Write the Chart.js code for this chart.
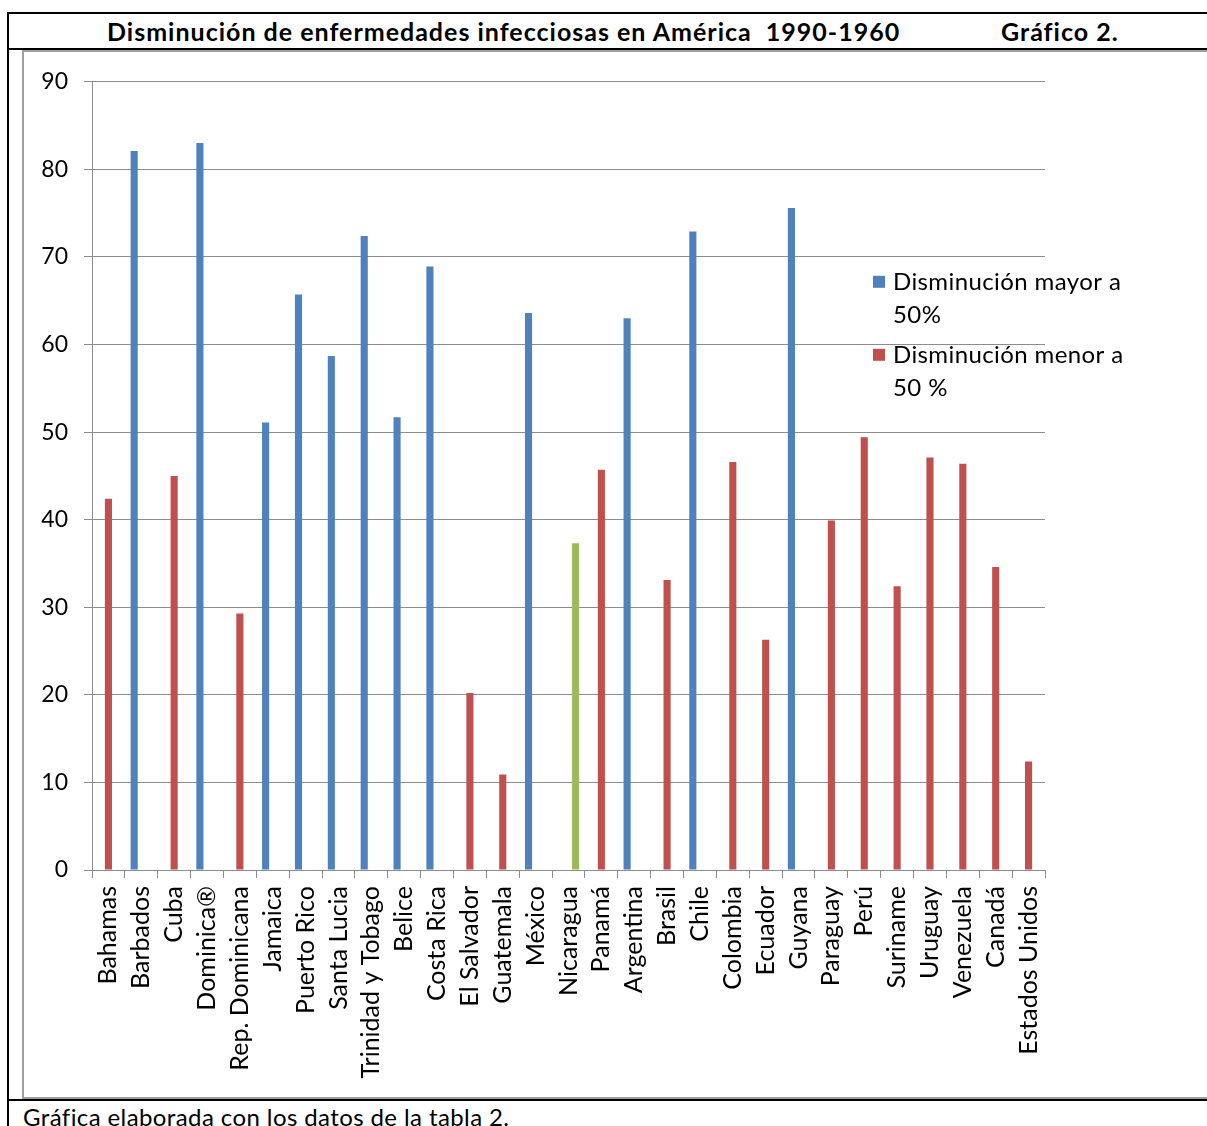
<!DOCTYPE html>
<html lang="es">
<head>
<meta charset="utf-8">
<title>Disminución de enfermedades infecciosas en América</title>
<script src="https://cdn.jsdelivr.net/npm/chart.js@4/dist/chart.umd.min.js"></script>
<style>
    html, body {
        margin: 0;
        padding: 0;
        background: #ffffff;
        width: 1207px;
        height: 1126px;
        overflow: hidden;
        font-family: Lato, "Open Sans", sans-serif;
    }
    .line { position: absolute; background: #000000; }
    .title {
        position: absolute;
        top: 16px;
        font-weight: bold;
        font-size: 25px;
        letter-spacing: 1px;
        color: #000000;
        white-space: pre;
    }
    .frame {
        position: absolute;
        left: 22px;
        top: 50px;
        width: 1200px;
        height: 1045px;
        border: 2px solid #a0a0a0;
        border-right: none;
    }
    .chart-box {
        position: absolute;
        left: 24px;
        top: 52px;
        width: 1183px;
        height: 1045px;
    }
    .footer {
        position: absolute;
        left: 23px;
        top: 1102px;
        font-size: 24px;
        letter-spacing: 0.4px;
        color: #000000;
        white-space: pre;
    }
</style>
</head>
<body>
<div class="line" style="left:7px; top:12px; width:1200px; height:2px;"></div>
<div class="line" style="left:7px; top:12px; width:2px; height:1114px;"></div>
<div class="line" style="left:7px; top:48px; width:1200px; height:2px;"></div>
<div class="title" style="left:107px;">Disminución de enfermedades infecciosas en América  1990-1960</div>
<div class="title" style="left:1001px;">Gráfico 2.</div>
<div class="frame"></div>
<div class="chart-box"><canvas id="chart" width="1183" height="1045"></canvas></div>
<div class="line" style="left:7px; top:1099px; width:1200px; height:2px;"></div>
<div class="footer">Gráfica elaborada con los datos de la tabla 2.</div>

<script>
// Categories (countries), in the order shown on the x axis
const countries = [
    'Bahamas', 'Barbados', 'Cuba', 'Dominica®', 'Rep. Dominicana', 'Jamaica',
    'Puerto Rico', 'Santa Lucia', 'Trinidad y Tobago', 'Belice', 'Costa Rica',
    'El Salvador', 'Guatemala', 'México', 'Nicaragua', 'Panamá', 'Argentina',
    'Brasil', 'Chile', 'Colombia', 'Ecuador', 'Guyana', 'Paraguay', 'Perú',
    'Suriname', 'Uruguay', 'Venezuela', 'Canadá', 'Estados Unidos'
];

// Disminución mayor a 50% (blue)
const mayorValues = [
    null, 82.1, null, 83.0, null, 51.1, 65.7, 58.7, 72.4, 51.7, 68.9,
    null, null, 63.6, null, null, 63.0, null, 72.9, null, null, 75.6,
    null, null, null, null, null, null, null
];

// Disminución menor a 50 % (red)
const menorValues = [
    42.4, null, 45.0, null, 29.3, null, null, null, null, null, null,
    20.2, 10.9, null, null, 45.7, null, 33.1, null, 46.6, 26.3, null,
    39.9, 49.4, 32.4, 47.1, 46.4, 34.6, 12.4
];

// Third series, only Nicaragua (green, not in legend)
const otherValues = [
    null, null, null, null, null, null, null, null, null, null, null,
    null, null, null, 37.3, null, null, null, null, null, null, null,
    null, null, null, null, null, null, null
];

// Y axis ticks
const yTicks = [0, 10, 20, 30, 40, 50, 60, 70, 80, 90];

// Legend text, wrapped as in the original
const legendLines = [
    ['Disminución mayor a', '50%'],
    ['Disminución menor a', '50 %']
];

(function () {
    'use strict';

    const FONT = 'Lato, "Open Sans", sans-serif';
    const GRID = '#8c8c8c';

    /**
     * Draws the wrapped legend over the right part of the plot.
     */
    const wrappedLegend = {
        id: 'wrappedLegend',
        afterDraw: function (chart) {
            const ctx = chart.ctx;
            const area = chart.chartArea;
            const x = area.right - 172;
            let y = area.top + 200;

            ctx.save();
            ctx.font = '24px ' + FONT;
            if ('letterSpacing' in ctx) {
                ctx.letterSpacing = '0.4px';
            }
            ctx.textBaseline = 'middle';
            ctx.textAlign = 'left';

            legendLines.forEach(function (lines, i) {
                ctx.fillStyle = chart.data.datasets[i].backgroundColor;
                ctx.fillRect(x, y - 6, 12, 12);
                ctx.fillStyle = '#000000';
                lines.forEach(function (text, j) {
                    ctx.fillText(text, x + 20, y + j * 33);
                });
                y += 73;
            });
            ctx.restore();
        }
    };

    const ctx = document.getElementById('chart').getContext('2d');

    new Chart(ctx, {
        type: 'bar',
        data: {
            labels: countries,
            datasets: [
                { label: legendLines[0].join(' '), data: mayorValues, backgroundColor: '#4f81bd' },
                { label: legendLines[1].join(' '), data: menorValues, backgroundColor: '#c0504d' },
                { label: 'Nicaragua', data: otherValues, backgroundColor: '#9bbb59' }
            ]
        },
        options: {
            responsive: false,
            animation: false,
            categoryPercentage: 0.65,
            barPercentage: 1.0,
            layout: {
                padding: { top: 29, right: 162, left: 0, bottom: 0 }
            },
            plugins: {
                legend: { display: false },
                tooltip: { enabled: false },
                title: { display: false }
            },
            scales: {
                x: {
                    grid: {
                        offset: true,
                        drawOnChartArea: false,
                        drawTicks: true,
                        tickLength: 8,
                        color: GRID
                    },
                    border: { color: GRID, width: 1 },
                    ticks: {
                        autoSkip: false,
                        minRotation: 90,
                        maxRotation: 90,
                        padding: 8,
                        color: '#000000',
                        font: { family: FONT, size: 25 }
                    },
                    afterFit: function (scale) {
                        scale.height = 227;
                    }
                },
                y: {
                    min: yTicks[0],
                    max: yTicks[yTicks.length - 1],
                    afterBuildTicks: function (scale) {
                        scale.ticks = yTicks.map(function (v) { return { value: v }; });
                    },
                    grid: {
                        color: GRID,
                        lineWidth: 1,
                        drawTicks: true,
                        tickLength: 8
                    },
                    border: { color: GRID, width: 1 },
                    ticks: {
                        padding: 16,
                        color: '#000000',
                        font: { family: FONT, size: 23 }
                    },
                    afterFit: function (scale) {
                        scale.width = 68;
                    }
                }
            }
        },
        plugins: [wrappedLegend]
    });
})();
</script>
</body>
</html>
